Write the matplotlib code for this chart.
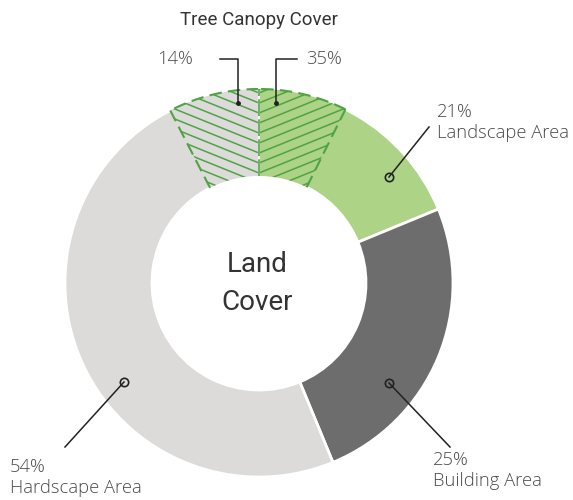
import numpy as np
import matplotlib
matplotlib.use("Agg")
import matplotlib.pyplot as plt
from matplotlib.patches import Wedge

# Land cover shares (%), drawn clockwise from the top
cover_names = ["Landscape Area", "Building Area", "Hardscape Area"]
cover_pct = [21, 25, 54]
cover_colors = ["#acd386", "#6d6d6d", "#dcdbda"]

# Tree canopy share (%) inside hardscape and landscape
canopy_pct = {"Hardscape Area": 14, "Landscape Area": 35}

canopy_green = "#4fa345"
text_dark = "#333333"
text_mid = "#4a4a4a"

fig = plt.figure(figsize=(5.73, 5.0), dpi=100)
ax = fig.add_axes([0, 0, 1, 1])

cx, cy = 259, 217
r_out, r_in = 194, 107
start = 98

wedges, _ = ax.pie(cover_pct, colors=cover_colors, startangle=start,
                   counterclock=False, center=(cx, cy), radius=r_out,
                   wedgeprops=dict(width=r_out - r_in, edgecolor="white",
                                   linewidth=2))

# angle span for each land cover segment
sweep = {n: p / 100 * 360 for n, p in zip(cover_names, cover_pct)}
fill = dict(zip(cover_names, cover_colors))

# canopy wedges share the top of the ring: hardscape to the left, landscape right
spans = {
    "Hardscape Area": (90, 90 + canopy_pct["Hardscape Area"] / 100 * sweep["Hardscape Area"], -1),
    "Landscape Area": (90 - canopy_pct["Landscape Area"] / 100 * sweep["Landscape Area"], 90, 1),
}
slope = np.tan(np.radians(22))
for name, (a0, a1, sgn) in spans.items():
    w = Wedge((cx, cy), r_out, a0, a1, width=r_out - r_in,
              facecolor=fill[name], edgecolor="none", zorder=3)
    ax.add_patch(w)
    xs = np.array([cx - 200, cx + 200])
    for c in np.arange(cy - 250, cy + 400, 10):
        ys = c + sgn * slope * (xs - cx)
        ln, = ax.plot(xs, ys, color=canopy_green, lw=1.1, zorder=4)
        ln.set_clip_path(w)
    # dashed outline: outer arc and the radial sides
    th = np.radians(np.linspace(a0, a1, 60))
    ax.plot(cx + r_out * np.cos(th), cy + r_out * np.sin(th), color=canopy_green,
            lw=1.5, dashes=(6, 3), zorder=5)
    for a in (a0, a1):
        if a == 90:
            continue
        t = np.radians(a)
        ax.plot([cx + r_in * np.cos(t), cx + r_out * np.cos(t)],
                [cy + r_in * np.sin(t), cy + r_out * np.sin(t)],
                color=canopy_green, lw=1.5, dashes=(6, 3), zorder=5)

# divider between the two canopy wedges
ax.plot([cx, cx], [cy + r_in, cy + r_out], color="white", lw=1.5, zorder=5)
ax.plot([cx, cx], [cy + r_in, cy + r_out], color=canopy_green, lw=1.2,
        dashes=(10, 2), zorder=6)

# centre label
ax.text(cx - 2, 235, "Land", ha="center", va="center", fontsize=20,
        family="Roboto", color=text_dark)
ax.text(cx - 2, 198, "Cover", ha="center", va="center", fontsize=20,
        family="Roboto", color=text_dark)

ax.text(cx, 480, "Tree Canopy Cover", ha="center", va="center",
        fontsize=13.5, family="Roboto", color=text_dark)

lab_font = dict(fontsize=13.2, family="Open Sans", weight="light", color=text_mid)

# canopy leaders
ax.plot([220, 238, 238], [441, 441, 397], color="#222222", lw=1.1, zorder=7)
ax.plot([297, 276, 276], [441, 441, 397], color="#222222", lw=1.1, zorder=7)
ax.plot([238, 276], [397, 397], ls="none", marker="o", ms=2.5, color="#222222", zorder=7)
ax.text(193, 441, f"{canopy_pct['Hardscape Area']}%", ha="right", va="center", **lab_font)
ax.text(306, 441, f"{canopy_pct['Landscape Area']}%", ha="left", va="center", **lab_font)

# segment leaders: (dot, line end, text x, text y of first line)
leaders = {
    "Landscape Area": ((389, 323), (429, 373), 437, 388),
    "Building Area": ((389, 117), (450, 53), 433, 40),
    "Hardscape Area": ((124, 118), (65, 53), 10, 33),
}
for name, pct in zip(cover_names, cover_pct):
    (dx, dy), (lx, ly), tx, ty = leaders[name]
    ax.plot([dx, lx], [dy, ly], color="#222222", lw=1.1, zorder=7)
    ax.plot(dx, dy, marker="o", ms=6, mfc="none", mec="#222222", mew=1.2, zorder=8)
    ax.text(tx, ty, f"{pct}%", ha="left", va="center", **lab_font)
    ax.text(tx, ty - 21, name, ha="left", va="center", **lab_font)

ax.set_xlim(0, 573)
ax.set_ylim(0, 500)
ax.set_aspect("equal")
ax.axis("off")
fig.savefig("out.png", dpi=100, facecolor="white")
